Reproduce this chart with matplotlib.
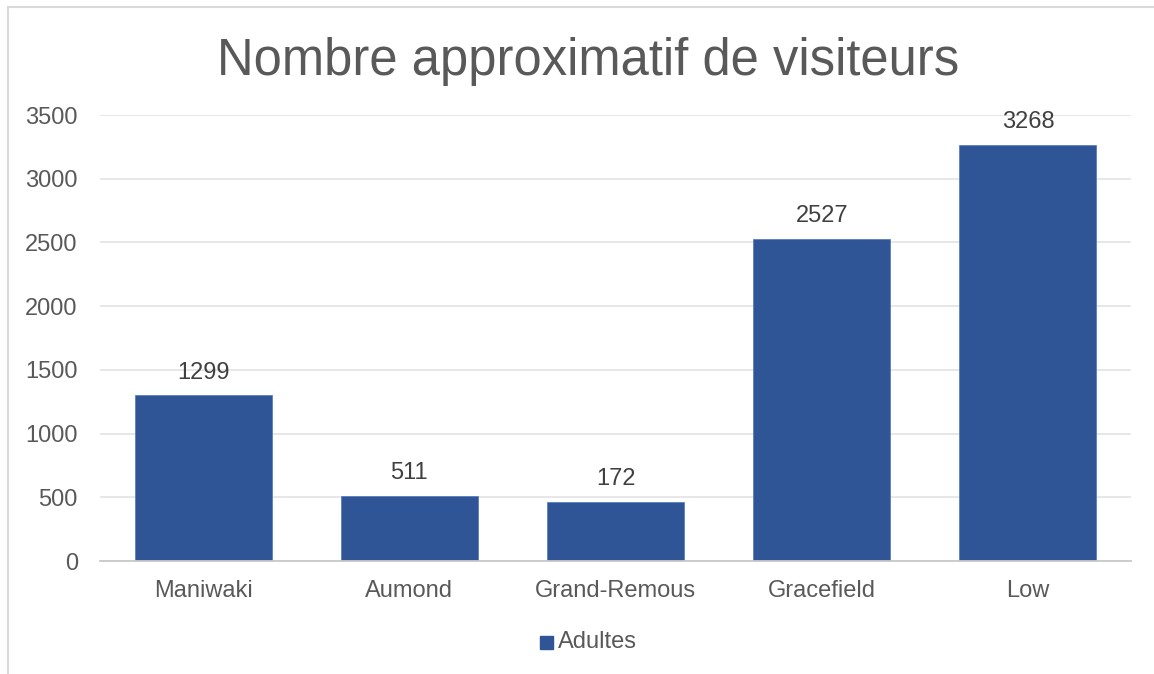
import matplotlib
matplotlib.use("Agg")
import matplotlib.pyplot as plt
from matplotlib.patches import Rectangle
from matplotlib.lines import Line2D

categories = ["Maniwaki", "Aumond", "Grand-Remous", "Gracefield", "Low"]
bar_heights = [1299, 511, 463, 2527, 3268]
value_labels = ["1299", "511", "172", "2527", "3268"]
series_name = "Adultes"
yticks = [0, 500, 1000, 1500, 2000, 2500, 3000, 3500]
title = "Nombre approximatif de visiteurs"

plt.rcParams['font.family'] = ['Liberation Sans', 'DejaVu Sans']

W, H = 1154, 674
fig = plt.figure(figsize=(W / 100, H / 100), dpi=100)
ax = fig.add_axes([100 / W, 1 - 561 / H, (1131 - 100) / W, (561 - 115) / H])

bar_color = "#2F5597"
fs = 17
x = list(range(len(categories)))
bars = ax.bar(x, bar_heights, width=0.665, color=bar_color, edgecolor="#5B7FC0",
              linewidth=0.6, zorder=3)

for xi, h, lab in zip(x, bar_heights, value_labels):
    ax.annotate(lab, (xi, h), xytext=(0, 8.5), textcoords="offset points",
                ha="center", va="bottom", fontsize=fs, color="#404040")

ax.set_xlim(-0.5, len(categories) - 0.5)
ax.set_ylim(0, 3500)
ax.set_yticks(yticks)
ax.set_yticklabels([str(t) for t in yticks], fontsize=fs, color="#595959")
ax.set_xticks(x)
ax.set_xticklabels(categories, fontsize=fs, color="#595959")
ax.tick_params(axis="both", length=0)
ax.tick_params(axis="y", pad=16)
ax.tick_params(axis="x", pad=14)
ax.grid(axis="y", color="#E3E3E3", linewidth=1.2, zorder=0)
for s in ["top", "right", "left"]:
    ax.spines[s].set_visible(False)
ax.spines["bottom"].set_color("#C8C8C8")
ax.spines["bottom"].set_linewidth(1.3)
ax.spines["bottom"].set_zorder(4)

fig.text(588 / W, 1 - 61 / H, title, ha="center", va="center", fontsize=36.5,
         color="#595959")

# legend
fig.patches.append(Rectangle((540 / W, 1 - 649 / H), 13 / W, 13 / H,
                             transform=fig.transFigure, color=bar_color))
fig.text(558 / W, 1 - 642 / H, series_name, ha="left", va="center",
         fontsize=fs, color="#595959")

# chart border (left & top visible)
fig.add_artist(Line2D([8 / W, 8 / W], [0, 1 - 7 / H], transform=fig.transFigure,
                      color="#D9D9D9", linewidth=1.5))
fig.add_artist(Line2D([8 / W, 1], [1 - 7 / H, 1 - 7 / H], transform=fig.transFigure,
                      color="#D9D9D9", linewidth=1.5))

fig.savefig("out.png", dpi=100, facecolor="white")
